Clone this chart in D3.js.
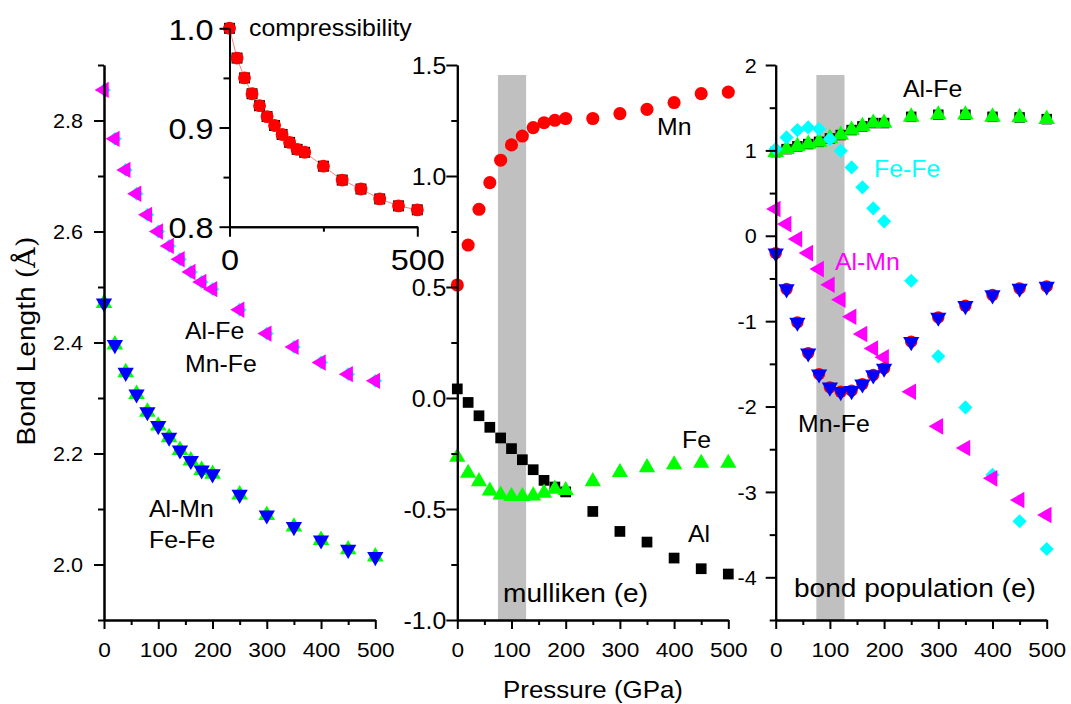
<!DOCTYPE html>
<html>
<head>
<meta charset="utf-8">
<script src="https://cdn.jsdelivr.net/npm/d3@7"></script>
<style>
  body { margin: 0; background: #fff; }
  text { font-family: "Liberation Sans", Arial, sans-serif; }
</style>
</head>
<body>
<div id="chart"></div>
<script>
// pressure steps (GPa) shared by every series
var pressure = [0, 20, 40, 60, 80, 100, 120, 140, 160, 180, 200, 250, 300, 350, 400, 450, 500];

// inset: compressibility V/V0
var compress = [1.0, 0.970, 0.950, 0.934, 0.922, 0.911, 0.902, 0.893, 0.885, 0.878, 0.875, 0.861, 0.847, 0.838, 0.828, 0.821, 0.817];

// bond lengths (angstrom)
var lenAlFe = [2.855, 2.767, 2.711, 2.668, 2.630, 2.600, 2.574, 2.550, 2.527, 2.509, 2.496, 2.459, 2.416, 2.392, 2.364, 2.343, 2.331];
var lenMnFe = [2.855, 2.767, 2.711, 2.668, 2.630, 2.600, 2.574, 2.550, 2.527, 2.509, 2.496, 2.459, 2.416, 2.392, 2.364, 2.343, 2.331];
var lenAlMn = [2.471, 2.396, 2.346, 2.307, 2.275, 2.250, 2.229, 2.206, 2.187, 2.170, 2.163, 2.126, 2.089, 2.068, 2.044, 2.027, 2.014];
var lenFeFe = [2.471, 2.396, 2.346, 2.307, 2.275, 2.250, 2.229, 2.206, 2.187, 2.170, 2.163, 2.126, 2.089, 2.068, 2.044, 2.027, 2.014];

// mulliken charges (e)
var mullMn = [0.509, 0.689, 0.850, 0.970, 1.071, 1.140, 1.180, 1.218, 1.240, 1.251, 1.259, 1.259, 1.281, 1.300, 1.331, 1.371, 1.378];
var mullAl = [0.041, -0.020, -0.080, -0.132, -0.180, -0.228, -0.278, -0.323, -0.371, -0.401, -0.423, -0.511, -0.601, -0.649, -0.721, -0.769, -0.793];
var mullFe = [-0.266, -0.338, -0.376, -0.418, -0.436, -0.443, -0.443, -0.440, -0.428, -0.410, -0.416, -0.376, -0.335, -0.313, -0.300, -0.293, -0.293];

// bond populations (e)
var popAlFe = [0.98, 1.015, 1.047, 1.074, 1.10, 1.14, 1.18, 1.238, 1.281, 1.32, 1.32, 1.393, 1.417, 1.417, 1.393, 1.386, 1.366];
var popAlFe2 = [0.98, 1.015, 1.047, 1.074, 1.10, 1.14, 1.18, 1.238, 1.281, 1.32, 1.32, 1.393, 1.417, 1.417, 1.393, 1.386, 1.366];
var popFeFe = [1.015, 1.152, 1.238, 1.269, 1.249, 1.132, 0.995, 0.801, 0.567, 0.321, 0.169, -0.527, -1.412, -2.01, -2.80, -3.344, -3.669];
var popAlMn = [0.313, 0.137, -0.039, -0.203, -0.39, -0.574, -0.749, -0.948, -1.151, -1.32, -1.424, -1.827, -2.232, -2.486, -2.841, -3.095, -3.27];
var popMnFe = [-0.203, -0.624, -1.014, -1.374, -1.62, -1.775, -1.827, -1.815, -1.737, -1.631, -1.553, -1.241, -0.956, -0.82, -0.694, -0.616, -0.593];

// grey band (GPa)
var band = [75, 127];

var W = 1071, H = 704, SX = 1.08;

var svg = d3.select("#chart").append("svg")
    .attr("width", W)
    .attr("height", H);

svg.append("rect").attr("width", W).attr("height", H).attr("fill", "#fff");

function txt(g, x, y, s, size, color, anchor, rot) {
  return g.append("text")
      .attr("transform", "translate(" + x + "," + y + ")" + (rot ? " rotate(" + rot + ")" : "") + " scale(" + SX + ",1)")
      .attr("text-anchor", anchor || "start")
      .style("font-size", size + "px")
      .attr("fill", color || "#000")
      .text(s);
}

function dots(g, x, y, vals, type, size, color, rot) {
  g.append("g").selectAll("path")
      .data(vals)
      .enter()
      .append("path")
      .attr("d", d3.symbol().type(type).size(size))
      .attr("transform", function(d, i) {
        return "translate(" + x(pressure[i]) + "," + y(d) + ")" + (rot ? " rotate(" + rot + ")" : "");
      })
      .attr("fill", color);
}

var fmt = function(dec) {
  return function(d) { return d3.format("." + dec + "f")(d).replace("\u2212", "-"); };
};

// y axis with labelled major ticks + minor ticks
function yAxis(g, y, major, minor, f, gap, fs, majLen, minLen) {
  var ax = g.append("g").attr("transform", "translate(" + y.x0 + ",0)");
  ax.call(d3.axisLeft(y).tickValues(minor).tickSize(minLen).tickSizeOuter(0).tickFormat(""));
  var ax2 = g.append("g").attr("transform", "translate(" + y.x0 + ",0)");
  ax2.call(d3.axisLeft(y).tickValues(major).tickSize(majLen).tickSizeOuter(0).tickFormat(f));
  ax2.selectAll("text")
      .attr("x", 0).attr("dy", "0.36em")
      .attr("transform", "translate(" + (-gap) + ",0) scale(" + SX + ",1)")
      .attr("fill", "#000")
      .style("font-size", fs + "px")
      .style("font-family", "'Liberation Sans', Arial, sans-serif");
  [ax, ax2].forEach(function(a) {
    a.selectAll("path,line").attr("stroke", "#000").attr("stroke-width", 2);
  });
}

function xAxis(g, x, y0, major, minor, f, off, fs, majLen, minLen) {
  var ax = g.append("g").attr("transform", "translate(0," + y0 + ")");
  ax.call(d3.axisBottom(x).tickValues(minor).tickSize(minLen).tickSizeOuter(0).tickFormat(""));
  var ax2 = g.append("g").attr("transform", "translate(0," + y0 + ")");
  ax2.call(d3.axisBottom(x).tickValues(major).tickSize(majLen).tickSizeOuter(0).tickFormat(f));
  ax2.selectAll("text")
      .attr("y", 0).attr("dy", 0)
      .attr("transform", "translate(0," + off + ") scale(" + SX + ",1)")
      .attr("fill", "#000")
      .style("font-size", fs + "px")
      .style("font-family", "'Liberation Sans', Arial, sans-serif");
  [ax, ax2].forEach(function(a) {
    a.selectAll("path,line").attr("stroke", "#000").attr("stroke-width", 2);
  });
}

var tri = d3.symbolTriangle, sq = d3.symbolSquare, circ = d3.symbolCircle;
var pMajor = [0, 100, 200, 300, 400, 500], pMinor = [50, 150, 250, 350, 450];

// ---------- panel 1: bond length ----------
var g1 = svg.append("g");
var x1 = d3.scaleLinear().domain([0, 500]).range([104, 375.3]);
var y1 = d3.scaleLinear().domain([1.9, 2.9]).range([620, 65]);
y1.x0 = 104;

dots(g1, x1, y1, lenMnFe, sq, 95, "#00ffff", 45);
dots(g1, x1, y1, lenAlFe, tri, 115, "#ff00ff", -90);
dots(g1, x1, y1, lenFeFe, circ, 90, "#ff0000");
dots(g1, x1, y1, lenFeFe, tri, 120, "#00ff00");
dots(g1, x1, y1, lenAlMn, tri, 115, "#0000ff", 180);

yAxis(g1, y1, [2.0, 2.2, 2.4, 2.6, 2.8], [1.9, 2.1, 2.3, 2.5, 2.7, 2.9], fmt(1), 21, 20, 10, 6);
xAxis(g1, x1, 620, pMajor, pMinor, d3.format("d"), 37, 21, 9, 5);

txt(g1, 185, 339, "Al-Fe", 23);
txt(g1, 185, 372, "Mn-Fe", 23);
txt(g1, 149, 517, "Al-Mn", 23);
txt(g1, 149, 548, "Fe-Fe", 23);
var yl = txt(g1, 35, 341, "Bond Length ", 26, "#000", "middle", -90);
yl.append("tspan").style("font-family", "'DejaVu Serif', serif").style("font-weight", "200").text("(\u00c5)");

// ---------- inset: compressibility ----------
var gi = svg.append("g");
var xi = d3.scaleLinear().domain([0, 500]).range([229.5, 417.3]);
var yi = d3.scaleLinear().domain([0.8, 1.0]).range([226.7, 28.3]);
yi.x0 = 229.5;

gi.append("path")
    .datum(compress)
    .attr("fill", "none")
    .attr("stroke", "#ff8080")
    .attr("stroke-width", 1)
    .attr("d", d3.line()
      .x(function(d, i) { return xi(pressure[i]); })
      .y(function(d) { return yi(d); }));
dots(gi, xi, yi, compress, sq, 120, "#000");
dots(gi, xi, yi, compress, circ, 130, "#ff0000");

yAxis(gi, yi, [0.8, 0.9, 1.0], [0.85, 0.95], fmt(1), 16, 30, 10, 6);
xAxis(gi, xi, 226.7, [0, 500], [250], d3.format("d"), 43, 30, 10, 5);
txt(gi, 249, 36, "compressibility", 23);

// ---------- panel 2: mulliken ----------
var g2 = svg.append("g");
var x2 = d3.scaleLinear().domain([0, 500]).range([457.3, 728.3]);
var y2 = d3.scaleLinear().domain([-1, 1.5]).range([620, 65]);
y2.x0 = 457.3;

g2.append("rect")
    .attr("x", x2(band[0]))
    .attr("width", x2(band[1]) - x2(band[0]))
    .attr("y", 75)
    .attr("height", 620 - 75)
    .attr("fill", "#c0c0c0");

dots(g2, x2, y2, mullMn, circ, 135, "#ff0000");
dots(g2, x2, y2, mullAl, sq, 115, "#000");
dots(g2, x2, y2, mullFe, tri, 115, "#00ff00");

yAxis(g2, y2, [-1, -0.5, 0, 0.5, 1, 1.5], [-0.75, -0.25, 0.25, 0.75, 1.25], fmt(1), 11, 23, 11, 6);
xAxis(g2, x2, 620, pMajor, pMinor, d3.format("d"), 37, 21, 9, 5);

txt(g2, 657, 135, "Mn", 23);
txt(g2, 682, 448, "Fe", 23);
txt(g2, 688, 542, "Al", 23);
txt(g2, 503, 602, "mulliken (e)", 26);

// ---------- panel 3: bond population ----------
var g3 = svg.append("g");
var x3 = d3.scaleLinear().domain([0, 500]).range([775.7, 1046.7]);
var y3 = d3.scaleLinear().domain([-4.5, 2]).range([620, 65]);
y3.x0 = 775.7;

g3.append("rect")
    .attr("x", x3(band[0]))
    .attr("width", x3(band[1]) - x3(band[0]))
    .attr("y", 75)
    .attr("height", 620 - 75)
    .attr("fill", "#c0c0c0");

dots(g3, x3, y3, popAlFe2, sq, 110, "#000");
dots(g3, x3, y3, popAlFe, tri, 120, "#00ff00");
dots(g3, x3, y3, popFeFe, sq, 100, "#00ffff", 45);
dots(g3, x3, y3, popAlMn, tri, 120, "#ff00ff", -90);
dots(g3, x3, y3, popMnFe, circ, 120, "#ff0000");
dots(g3, x3, y3, popMnFe, tri, 115, "#0000ff", 180);

yAxis(g3, y3, [-4, -3, -2, -1, 0, 1, 2], [-4.5, -3.5, -2.5, -1.5, -0.5, 0.5, 1.5], fmt(0), 19, 20, 10, 6);
xAxis(g3, x3, 620, pMajor, pMinor, d3.format("d"), 37, 21, 9, 5);

txt(g3, 903, 97, "Al-Fe", 23);
txt(g3, 874, 177, "Fe-Fe", 23, "#00ffff");
txt(g3, 835, 270, "Al-Mn", 23, "#ff00ff");
txt(g3, 798, 432, "Mn-Fe", 23);
txt(g3, 794, 597, "bond population (e)", 26);

// shared x title
txt(svg, 503, 698, "Pressure (GPa)", 24);
</script>
</body>
</html>
